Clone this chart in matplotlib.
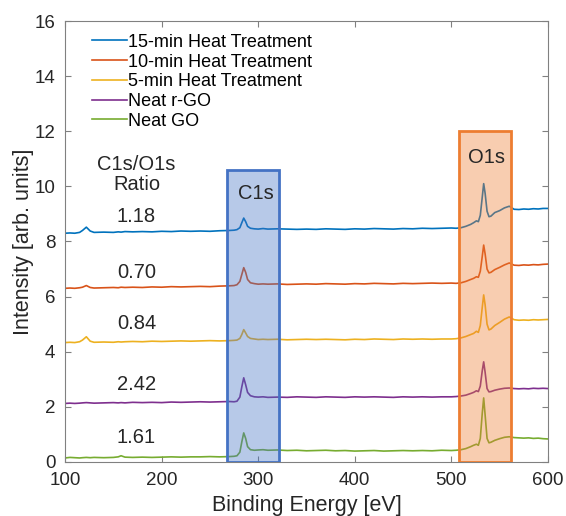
import matplotlib
matplotlib.use("Agg")
import matplotlib.pyplot as plt
from matplotlib.patches import Rectangle

plt.rcParams["font.family"] = ["Liberation Sans", "DejaVu Sans"]

# binding energy grid (eV), denser around the C1s and O1s peaks
energy = [100, 105, 110, 115, 118, 122, 126, 130, 140, 150,
          155, 158, 162, 170, 180, 190, 200, 210, 220, 230,
          240, 250, 260, 270, 275, 278, 281, 283, 285, 287,
          289, 292, 296, 300, 305, 310, 320, 330, 340, 350,
          360, 370, 380, 390, 400, 410, 420, 430, 440, 450,
          460, 470, 480, 490, 500, 505, 510, 515, 520, 523,
          526, 528, 530, 532, 533.5, 535, 537, 539, 541, 545,
          550, 555, 560, 565, 570, 575, 580, 585, 590, 595,
          600]

heat15 = [8.30, 8.31, 8.30, 8.33, 8.40, 8.52, 8.38, 8.33, 8.34, 8.33,
          8.35, 8.34, 8.36, 8.35, 8.36, 8.35, 8.37, 8.36, 8.38, 8.37,
          8.38, 8.37, 8.39, 8.40, 8.41, 8.43, 8.50, 8.68, 8.85, 8.72,
          8.55, 8.48, 8.46, 8.45, 8.47, 8.45, 8.46, 8.45, 8.44, 8.45,
          8.44, 8.46, 8.45, 8.44, 8.46, 8.45, 8.47, 8.46, 8.45, 8.47,
          8.46, 8.48, 8.47, 8.48, 8.49, 8.48, 8.50, 8.55, 8.62, 8.68,
          8.75, 8.72, 8.95, 9.60, 10.10, 9.75, 9.10, 8.90, 8.92, 9.05,
          9.12, 9.22, 9.28, 9.17, 9.16, 9.18, 9.17, 9.19, 9.18, 9.20,
          9.20]

heat10 = [6.30, 6.31, 6.30, 6.32, 6.34, 6.40, 6.33, 6.31, 6.32, 6.33,
          6.32, 6.34, 6.33, 6.34, 6.33, 6.35, 6.34, 6.36, 6.35, 6.36,
          6.37, 6.36, 6.38, 6.39, 6.40, 6.43, 6.55, 6.80, 7.05, 6.88,
          6.62, 6.50, 6.47, 6.45, 6.46, 6.45, 6.46, 6.44, 6.45, 6.46,
          6.45, 6.47, 6.46, 6.45, 6.47, 6.46, 6.48, 6.47, 6.46, 6.48,
          6.47, 6.48, 6.49, 6.48, 6.49, 6.48, 6.50, 6.55, 6.62, 6.66,
          6.72, 6.70, 6.92, 7.45, 7.87, 7.55, 7.00, 6.86, 6.88, 6.98,
          7.06, 7.15, 7.22, 7.14, 7.13, 7.15, 7.14, 7.16, 7.15, 7.17,
          7.18]

heat5 = [4.33, 4.34, 4.33, 4.36, 4.42, 4.54, 4.38, 4.34, 4.35, 4.34,
         4.36, 4.35, 4.36, 4.37, 4.36, 4.38, 4.37, 4.38, 4.39, 4.38,
         4.39, 4.40, 4.39, 4.40, 4.41, 4.42, 4.48, 4.62, 4.80, 4.68,
         4.55, 4.48, 4.46, 4.44, 4.45, 4.44, 4.45, 4.43, 4.44, 4.45,
         4.44, 4.45, 4.44, 4.43, 4.45, 4.44, 4.46, 4.45, 4.44, 4.46,
         4.45, 4.46, 4.45, 4.46, 4.46, 4.47, 4.50, 4.55, 4.62, 4.66,
         4.74, 4.70, 4.95, 5.60, 6.06, 5.70, 5.00, 4.79, 4.82, 4.95,
         5.06, 5.18, 5.26, 5.16, 5.14, 5.15, 5.14, 5.16, 5.15, 5.16,
         5.17]

neat_rgo = [2.12, 2.13, 2.12, 2.13, 2.14, 2.15, 2.14, 2.13, 2.14, 2.15,
            2.14, 2.15, 2.14, 2.16, 2.15, 2.16, 2.15, 2.17, 2.16, 2.17,
            2.18, 2.17, 2.18, 2.19, 2.18, 2.20, 2.35, 2.72, 3.05, 2.80,
            2.52, 2.40, 2.36, 2.35, 2.36, 2.34, 2.35, 2.34, 2.36, 2.35,
            2.34, 2.36, 2.35, 2.34, 2.36, 2.35, 2.36, 2.35, 2.34, 2.36,
            2.35, 2.36, 2.35, 2.36, 2.36, 2.37, 2.39, 2.42, 2.48, 2.52,
            2.58, 2.55, 2.75, 3.30, 3.63, 3.25, 2.66, 2.54, 2.55, 2.60,
            2.64, 2.67, 2.68, 2.66, 2.65, 2.66, 2.65, 2.67, 2.66, 2.67,
            2.66]

neat_go = [0.14, 0.16, 0.15, 0.14, 0.15, 0.16, 0.15, 0.16, 0.15, 0.16,
           0.18, 0.22, 0.17, 0.16, 0.17, 0.16, 0.17, 0.18, 0.17, 0.18,
           0.18, 0.19, 0.18, 0.19, 0.20, 0.22, 0.35, 0.72, 1.05, 0.85,
           0.55, 0.44, 0.42, 0.43, 0.44, 0.42, 0.43, 0.41, 0.42, 0.40,
           0.41, 0.42, 0.40, 0.41, 0.39, 0.40, 0.41, 0.39, 0.40, 0.41,
           0.40, 0.41, 0.40, 0.42, 0.41, 0.42, 0.44, 0.48, 0.55, 0.60,
           0.64, 0.60, 0.85, 1.75, 2.32, 1.70, 0.85, 0.69, 0.71, 0.78,
           0.84, 0.89, 0.91, 0.88, 0.87, 0.86, 0.87, 0.85, 0.86, 0.84,
           0.83]

labels = ["15-min Heat Treatment", "10-min Heat Treatment",
          "5-min Heat Treatment", "Neat r-GO", "Neat GO"]
colors = ["#0072BD", "#D95319", "#EDB120", "#7E2F8E", "#77AC30"]
series = [heat15, heat10, heat5, neat_rgo, neat_go]

ratios = ["1.18", "0.70", "0.84", "2.42", "1.61"]
ratio_y = [8.89, 6.89, 5.04, 2.79, 0.87]

# peak regions: (start eV, end eV, height)
c1s_box = (268, 322, 10.6)
o1s_box = (508, 562, 12.0)

fig = plt.figure(figsize=(5.66, 5.16), dpi=100)
ax = fig.add_axes([0.115, 0.105, 0.853, 0.854])

for y, c, lab in zip(series, colors, labels):
    ax.plot(energy, y, color=c, lw=1.2, label=lab, zorder=2)

for (x0, x1, h), c in [(c1s_box, "#4472C4"), (o1s_box, "#ED7D31")]:
    ax.add_patch(Rectangle((x0, 0), x1 - x0, h, facecolor=c, alpha=0.38,
                           edgecolor="none", zorder=3))
    ax.add_patch(Rectangle((x0, 0), x1 - x0, h, facecolor="none",
                           edgecolor=c, lw=2, zorder=4))

ax.text(298, 9.75, "C1s", ha="center", va="center", fontsize=14.5,
        color="#262626", zorder=5)
ax.text(536, 11.05, "O1s", ha="center", va="center", fontsize=14.5,
        color="#262626", zorder=5)

ax.text(174, 10.43, "C1s/O1s\nRatio", ha="center", va="center",
        fontsize=14.5, linespacing=1.1, color="#262626")
for r, yy in zip(ratios, ratio_y):
    ax.text(174, yy, r, ha="center", va="center", fontsize=14.5,
            color="#262626")

ax.set_xlim(100, 600)
ax.set_ylim(0, 16)
ax.set_xticks(range(100, 601, 100))
ax.set_yticks(range(0, 17, 2))
ax.tick_params(direction="in", top=True, right=True, length=4,
               width=0.8, labelsize=13.5, colors="#808080",
               labelcolor="#262626", pad=7)
for sp in ax.spines.values():
    sp.set_color("#808080")
    sp.set_linewidth(0.8)

ax.set_xlabel("Binding Energy [eV]", fontsize=15.5, color="#262626",
              labelpad=5)
ax.set_ylabel("Intensity [arb. units]", fontsize=15.5, color="#262626",
              labelpad=0)

ax.legend(loc="upper left", bbox_to_anchor=(0.03, 1.0), frameon=False,
          fontsize=13, handlelength=1.9, handletextpad=0.1,
          labelspacing=0.15, borderaxespad=0.3)

fig.savefig("out.png", dpi=100)
